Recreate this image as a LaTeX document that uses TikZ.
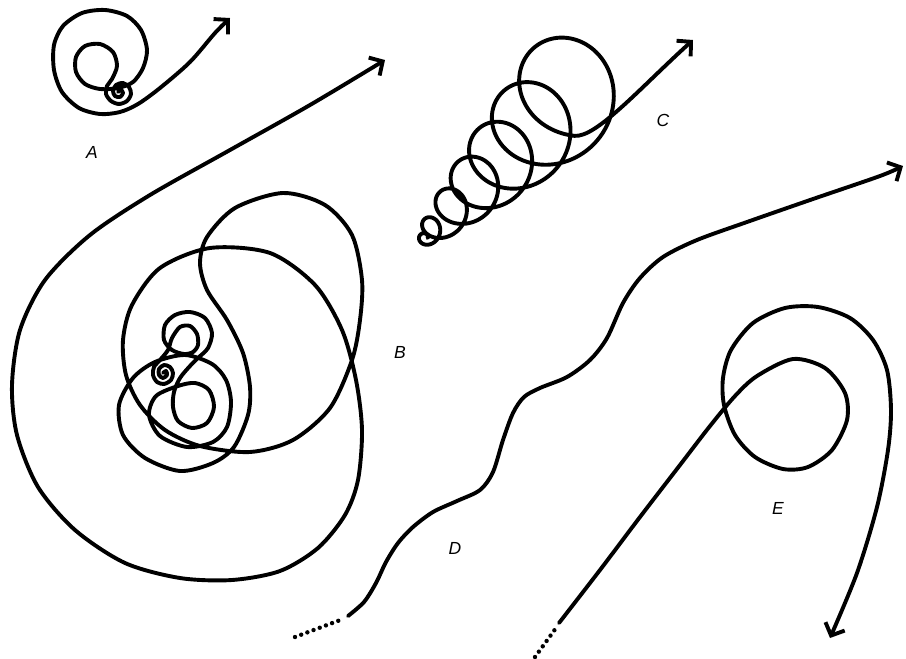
\documentclass[tikz,border=0pt]{standalone}
\usepackage{fontspec}
\newfontfamily\labfont{Liberation Sans}
\usetikzlibrary{arrows.meta}
\tikzset{
 curve/.style={line width=3.9pt, line cap=round, line join=round},
 dotline/.style={line width=4.4pt, line cap=round, dash pattern=on 0pt off 6.6pt},
 tip/.style={-{Straight Barb[length=10pt,width=21pt]}},
 lab/.style={font=\fontsize{17.5}{20}\selectfont\labfont\itshape, inner sep=0pt}
}
\begin{document}
\begin{tikzpicture}[x=1pt,y=-1pt]
\useasboundingbox (0,0) rectangle (906,659);

% ---------- A ----------
\draw[curve,tip] plot[smooth] coordinates {
 (118,92) (121,90) (123,93) (120,97) (115,96) (113,91) (116,85) (123,83) (129,87)
 (131,94) (127,101) (119,104) (111,101) (106,94) (107,86) (112,79) (117,66) (113,52)
 (100,44) (85,46) (76,57) (76,72) (85,84) (100,89) (118,88) (133,82) (143,68)
 (147,50) (141,30) (127,16) (105,10) (82,13) (63,26) (54,45) (54,70) (62,92)
 (79,108) (100,114) (120,112) (138,104) (160,88) (190,62) (215,33) (230,18)};
\node[lab] (labA) at (92,152) {A};

% ---------- B ----------
\draw[curve,tip] plot[smooth] coordinates {
 (163,373) (166,371) (167,375) (163,378) (159,375) (159,369) (164,365) (170,367)
 (173,373) (171,380) (164,384) (157,382) (153,375) (154,367) (160,360)
 (168,350) (172,338) (180,327) (190,326) (197,334) (198,345) (193,352) (184,354)
 (172,350) (164,340) (165,325) (175,315) (190,312) (205,318) (212,333) (208,348)
 (198,358) (190,366) (180,378) (174,392) (173,407) (178,421) (192,428) (207,423)
 (214,407) (209,390) (195,383) (178,386) (156,396) (149,415) (160,436) (187,447)
 (213,442) (227,427) (231,402) (226,380) (212,364) (185,355) (155,362) (133,378)
 (119,405) (123,435) (145,458) (180,471) (213,463) (234,447) (248,415) (250,387)
 (243,353) (227,320) (207,290) (200,263) (207,237) (235,208) (283,193) (325,205)
 (352,235) (362,280) (360,320) (352,360) (330,408) (293,440) (250,452) (200,446)
 (165,430) (140,405) (126,375) (123,340) (132,305) (160,268) (210,248) (270,253)
 (315,285) (342,330) (356,380) (362,430) (358,480) (345,515) (318,548) (280,571)
 (232,580) (180,578) (125,563) (75,530) (38,487) (17,435) (12,385) (20,330)
 (45,280) (90,235) (150,195) (230,150) (310,105) (385,60)};
\node[lab] (labB) at (400,352) {B};

% ---------- C ----------
\draw[curve,tip] plot[variable=\t, domain=0:6.72, samples=800, smooth]
 ({425+0.707*(3.34*\t*\t+11.6*\t)*(1-exp(-0.5*\t*\t))+(2.5+8*\t+0.1*\t*\t)*cos(360*\t)},
  {238-0.707*(3.34*\t*\t+11.6*\t)*(1-exp(-0.5*\t*\t))-(2.5+8*\t+0.1*\t*\t)*sin(360*\t)})
 .. controls +(22,2) and (640,88) .. (693,40);
\node[lab] (labC) at (663,120) {C};

% ---------- D ----------
\draw[dotline] (295,637) -- (343,619);
\draw[curve,tip] plot[smooth] coordinates {
 (348,616) (364,602) (376,583) (386,562) (398,543) (413,527) (433,512) (457,501)
 (480,490) (493,472) (503,440) (513,413) (524,397) (540,388) (567,377) (590,360)
 (607,338) (623,303) (640,278) (663,257) (697,240) (747,222) (813,199) (880,176)
 (903,166)};
\node[lab] (labD) at (455,548) {D};

% ---------- E ----------
\draw[dotline] (535,657) -- (556,628);
\draw[curve,tip] plot[smooth] coordinates {
 (559,623) (600,570) (640,517) (680,465) (710,426) (735,396) (757,376) (793,359)
 (825,368) (845,393) (847,420) (832,450) (808,467) (783,469) (755,457) (735,435)
 (724,405) (723,378) (731,350) (753,323) (785,308) (818,307) (850,318) (873,340)
 (887,370) (891,410) (888,450) (877,507) (857,573) (830,638)};
\node[lab] (labE) at (778,508) {E};
\end{tikzpicture}
\end{document}
